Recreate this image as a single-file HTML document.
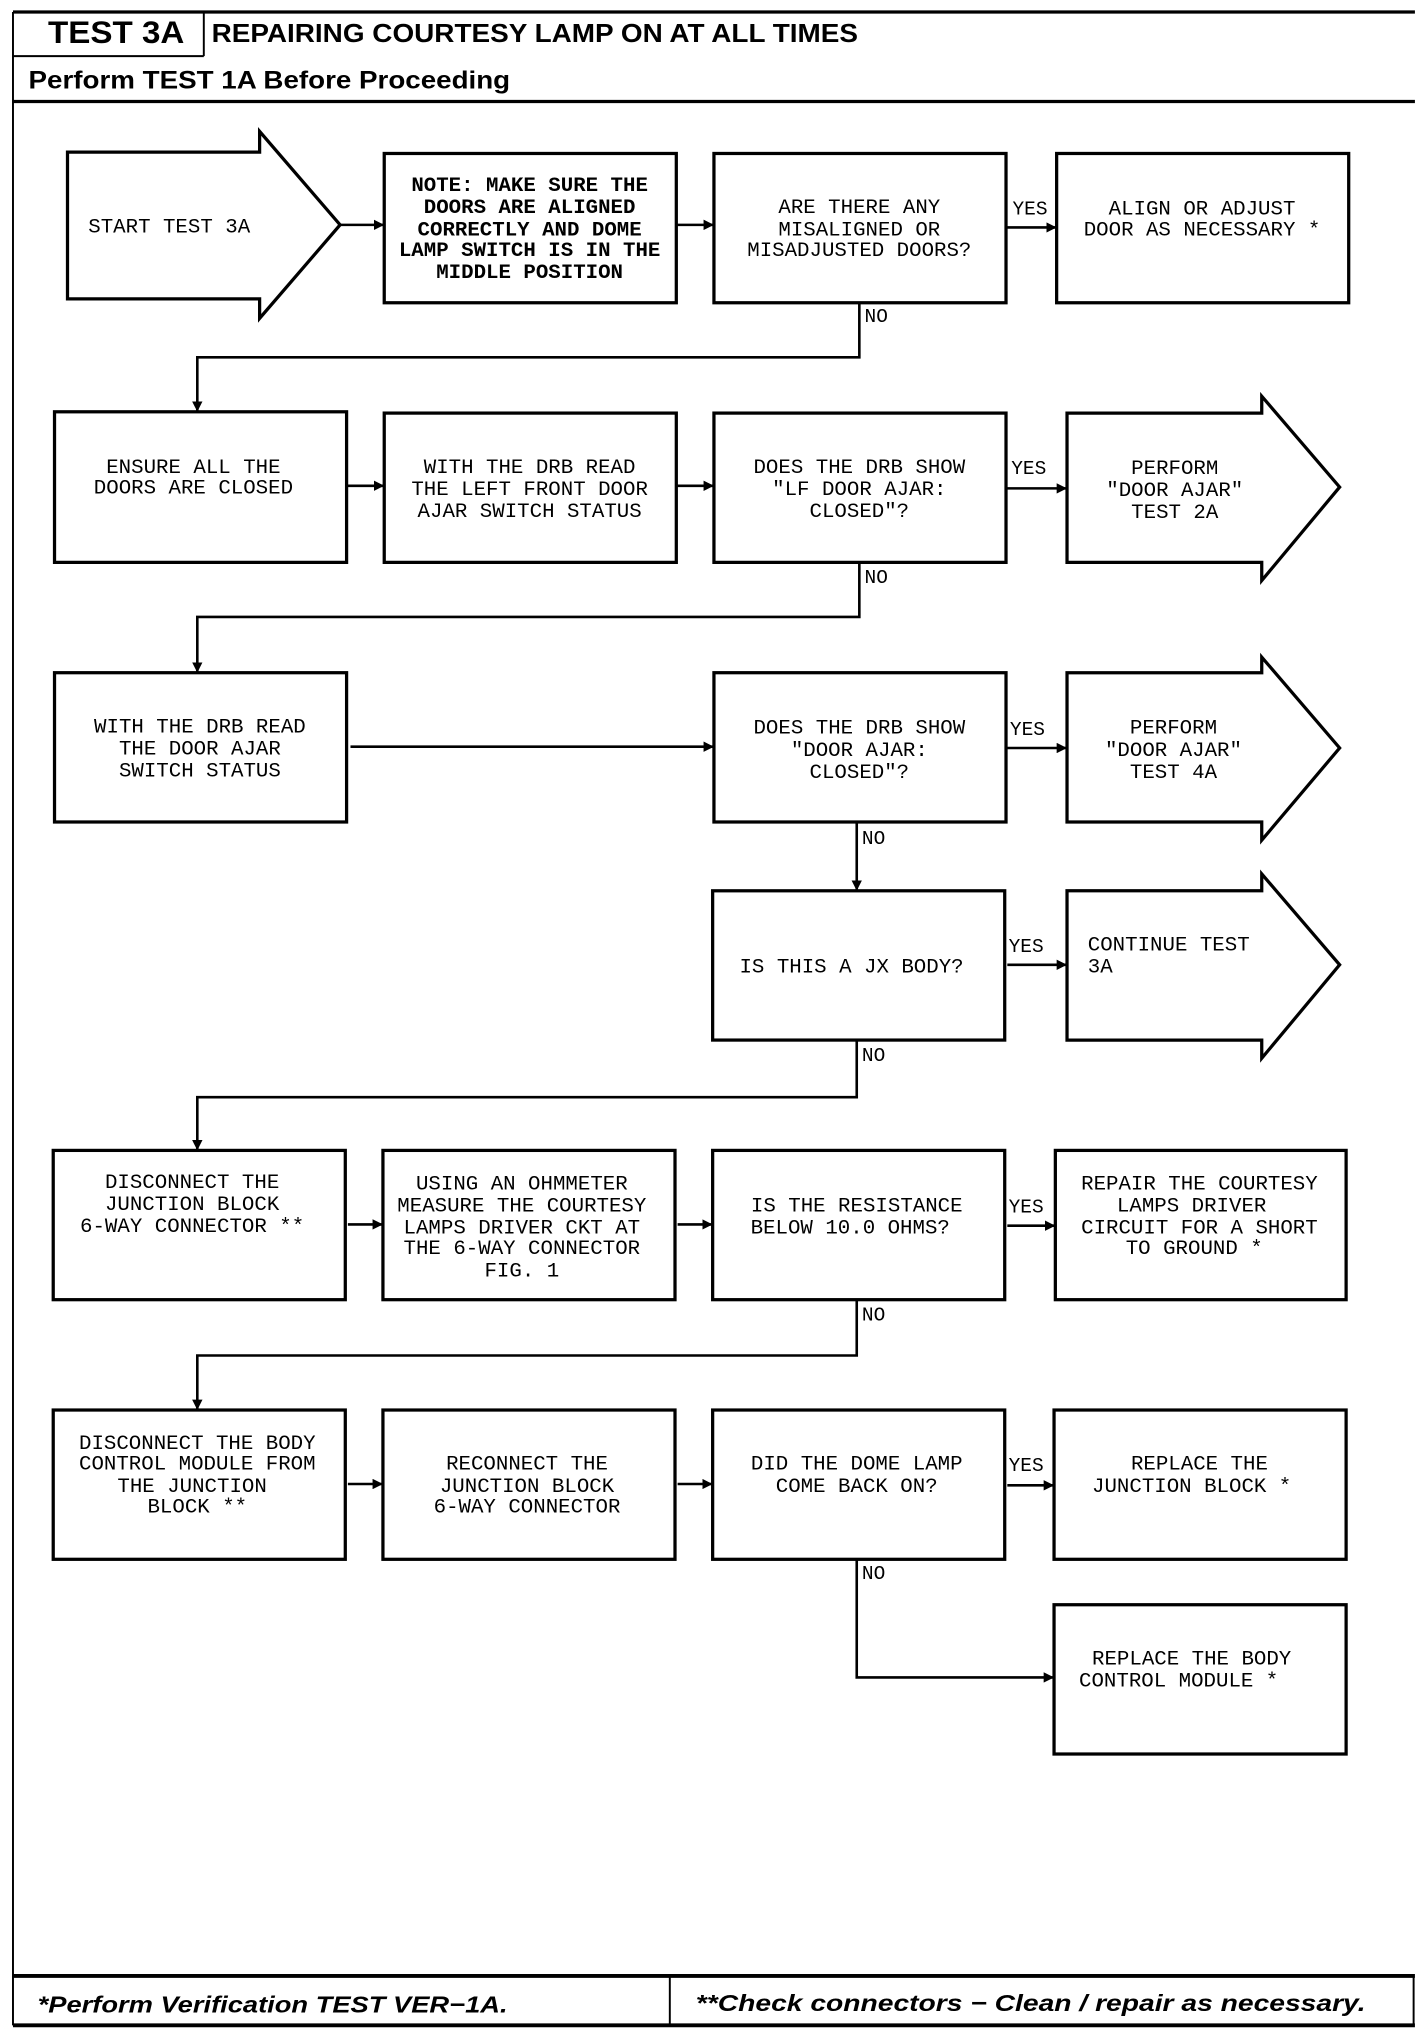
<!DOCTYPE html>
<html><head><meta charset="utf-8"><style>html,body{margin:0;padding:0;background:#fff}svg{display:block}</style></head><body>
<svg width="1424" height="2036" viewBox="0 0 1097 1568" xmlns="http://www.w3.org/2000/svg">
<defs><marker id="ah" markerWidth="8" markerHeight="8" refX="7" refY="4" orient="auto" markerUnits="userSpaceOnUse"><path d="M0,0 L8,4 L0,8 Z" fill="#000"/></marker></defs>
<g fill="none" stroke="#000">
<line x1="10" y1="9" x2="1090" y2="9" stroke-width="2.5"/>
<line x1="10" y1="9" x2="10" y2="1560" stroke-width="1.5"/>
<line x1="157" y1="9" x2="157" y2="43" stroke-width="1.5"/>
<line x1="10" y1="43" x2="157" y2="43" stroke-width="1.5"/>
<line x1="10" y1="78" x2="1090" y2="78" stroke-width="2.5"/>
<line x1="10" y1="1522" x2="1090" y2="1522" stroke-width="3"/>
<line x1="10" y1="1560" x2="1090" y2="1560" stroke-width="3"/>
<line x1="516" y1="1522" x2="516" y2="1560" stroke-width="1.5"/>
<line x1="1089" y1="1522" x2="1089" y2="1560" stroke-width="1.5"/>
</g>
<g font-family="Liberation Sans, sans-serif" font-weight="bold" fill="#000">
<text x="37" y="33" font-size="24" textLength="105" lengthAdjust="spacingAndGlyphs">TEST 3A</text>
<text x="163" y="32" font-size="20" textLength="498" lengthAdjust="spacingAndGlyphs">REPAIRING COURTESY LAMP ON AT ALL TIMES</text>
<text x="22" y="68" font-size="19" textLength="371" lengthAdjust="spacingAndGlyphs">Perform TEST 1A Before Proceeding</text>
<text x="29" y="1550" font-size="18" font-style="italic" textLength="362" lengthAdjust="spacingAndGlyphs">*Perform Verification TEST VER−1A.</text>
<text x="536" y="1549" font-size="18" font-style="italic" textLength="516" lengthAdjust="spacingAndGlyphs">**Check connectors − Clean / repair as necessary.</text>
</g>
<g fill="#fff" stroke="#000" stroke-width="2.5">
<path d="M52,117 H200 V101 L262,173 L200,245 V230 H52 Z"/>
<rect x="296" y="118" width="225" height="115"/>
<rect x="550" y="118" width="225" height="115"/>
<rect x="814" y="118" width="225" height="115"/>
<rect x="42" y="317" width="225" height="116"/>
<rect x="296" y="318" width="225" height="115"/>
<rect x="550" y="318" width="225" height="115"/>
<path d="M822,318 H972 V305 L1032,375 L972,447 V433 H822 Z"/>
<rect x="42" y="518" width="225" height="115"/>
<rect x="550" y="518" width="225" height="115"/>
<path d="M822,518 H972 V506 L1032,576 L972,647 V633 H822 Z"/>
<rect x="549" y="686" width="225" height="115"/>
<path d="M822,686 H972 V673 L1032,743 L972,815 V801 H822 Z"/>
<rect x="41" y="886" width="225" height="115"/>
<rect x="295" y="886" width="225" height="115"/>
<rect x="549" y="886" width="225" height="115"/>
<rect x="813" y="886" width="224" height="115"/>
<rect x="41" y="1086" width="225" height="115"/>
<rect x="295" y="1086" width="225" height="115"/>
<rect x="549" y="1086" width="225" height="115"/>
<rect x="812" y="1086" width="225" height="115"/>
<rect x="812" y="1236" width="225" height="115"/>
</g>
<g fill="none" stroke="#000" stroke-width="2">
<line x1="262" y1="173" x2="295" y2="173" marker-end="url(#ah)"/>
<line x1="522" y1="173" x2="549" y2="173" marker-end="url(#ah)"/>
<line x1="776" y1="175" x2="813" y2="175" marker-end="url(#ah)"/>
<polyline points="662,233 662,275 152,275 152,316" marker-end="url(#ah)"/>
<line x1="268" y1="374" x2="295" y2="374" marker-end="url(#ah)"/>
<line x1="522" y1="374" x2="549" y2="374" marker-end="url(#ah)"/>
<line x1="776" y1="376" x2="821" y2="376" marker-end="url(#ah)"/>
<polyline points="662,433 662,475 152,475 152,517" marker-end="url(#ah)"/>
<line x1="270" y1="575" x2="549" y2="575" marker-end="url(#ah)"/>
<line x1="776" y1="576" x2="821" y2="576" marker-end="url(#ah)"/>
<line x1="660" y1="633" x2="660" y2="685" marker-end="url(#ah)"/>
<line x1="776" y1="743" x2="821" y2="743" marker-end="url(#ah)"/>
<polyline points="660,801 660,845 152,845 152,885" marker-end="url(#ah)"/>
<line x1="268" y1="943" x2="294" y2="943" marker-end="url(#ah)"/>
<line x1="522" y1="943" x2="548" y2="943" marker-end="url(#ah)"/>
<line x1="776" y1="944" x2="812" y2="944" marker-end="url(#ah)"/>
<polyline points="660,1001 660,1044 152,1044 152,1085" marker-end="url(#ah)"/>
<line x1="268" y1="1143" x2="294" y2="1143" marker-end="url(#ah)"/>
<line x1="522" y1="1143" x2="548" y2="1143" marker-end="url(#ah)"/>
<line x1="776" y1="1144" x2="811" y2="1144" marker-end="url(#ah)"/>
<polyline points="660,1201 660,1292 811,1292" marker-end="url(#ah)"/>
</g>
<g font-family="Liberation Mono, monospace" font-size="16" fill="#000" text-anchor="middle">
<text x="68" y="179" text-anchor="start">START TEST 3A</text>
<g font-weight="bold"><text x="408" y="147">NOTE:  MAKE SURE THE</text><text x="408" y="164">DOORS ARE ALIGNED</text><text x="408" y="181">CORRECTLY AND DOME</text><text x="408" y="197">LAMP SWITCH IS IN THE</text><text x="408" y="214">MIDDLE POSITION</text></g>
<text x="662" y="164">ARE THERE ANY</text><text x="662" y="181">MISALIGNED OR</text><text x="662" y="197">MISADJUSTED DOORS?</text>
<text x="926" y="165">ALIGN OR ADJUST</text><text x="926" y="181">DOOR AS NECESSARY *</text>
<text x="149" y="364">ENSURE ALL THE</text><text x="149" y="380">DOORS ARE CLOSED</text>
<text x="408" y="364">WITH THE DRB READ</text><text x="408" y="381">THE LEFT FRONT DOOR</text><text x="408" y="398">AJAR SWITCH STATUS</text>
<text x="662" y="364">DOES THE DRB SHOW</text><text x="662" y="381">"LF DOOR AJAR:</text><text x="662" y="398">CLOSED"?</text>
<text x="905" y="365">PERFORM</text><text x="905" y="382">"DOOR AJAR"</text><text x="905" y="399">TEST 2A</text>
<text x="154" y="564">WITH THE DRB READ</text><text x="154" y="581">THE DOOR AJAR</text><text x="154" y="598">SWITCH STATUS</text>
<text x="662" y="565">DOES THE DRB SHOW</text><text x="662" y="582">"DOOR AJAR:</text><text x="662" y="599">CLOSED"?</text>
<text x="904" y="565">PERFORM</text><text x="904" y="582">"DOOR AJAR"</text><text x="904" y="599">TEST 4A</text>
<text x="656" y="749">IS THIS A JX BODY?</text>
<text x="838" y="732" text-anchor="start">CONTINUE TEST</text><text x="838" y="749" text-anchor="start">3A</text>
<text x="148" y="915">DISCONNECT THE</text><text x="148" y="932">JUNCTION BLOCK</text><text x="148" y="949">6-WAY CONNECTOR **</text>
<text x="402" y="916">USING AN OHMMETER</text><text x="402" y="933">MEASURE THE COURTESY</text><text x="402" y="950">LAMPS DRIVER CKT AT</text><text x="402" y="966">THE 6-WAY CONNECTOR</text><text x="402" y="983">FIG. 1</text>
<text x="660" y="933">IS THE RESISTANCE</text><text x="655" y="950">BELOW 10.0 OHMS?</text>
<text x="924" y="916">REPAIR THE COURTESY</text><text x="918" y="933">LAMPS DRIVER</text><text x="924" y="950">CIRCUIT FOR A SHORT</text><text x="920" y="966">TO GROUND *</text>
<text x="152" y="1116">DISCONNECT THE BODY</text><text x="152" y="1132">CONTROL MODULE FROM</text><text x="148" y="1149">THE JUNCTION</text><text x="152" y="1165">BLOCK  **</text>
<text x="406" y="1132">RECONNECT THE</text><text x="406" y="1149">JUNCTION BLOCK</text><text x="406" y="1165">6-WAY CONNECTOR</text>
<text x="660" y="1132">DID THE DOME LAMP</text><text x="660" y="1149">COME BACK ON?</text>
<text x="924" y="1132">REPLACE THE</text><text x="918" y="1149">JUNCTION BLOCK *</text>
<text x="918" y="1282">REPLACE THE BODY</text><text x="908" y="1299">CONTROL MODULE *</text>
<g text-anchor="start" font-size="15">
<text x="780" y="165">YES</text><text x="666" y="248">NO</text>
<text x="779" y="365">YES</text><text x="666" y="449">NO</text>
<text x="778" y="566">YES</text><text x="664" y="650">NO</text>
<text x="777" y="733">YES</text><text x="664" y="817">NO</text>
<text x="777" y="934">YES</text><text x="664" y="1017">NO</text>
<text x="777" y="1133">YES</text><text x="664" y="1216">NO</text>
</g>
</g>
</svg>
</body></html>
